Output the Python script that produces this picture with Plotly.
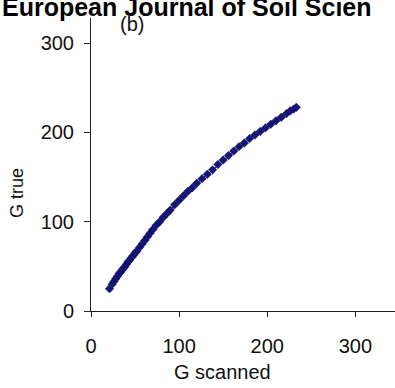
import plotly.graph_objects as go

g_scanned = [21, 24, 26, 28, 30, 32, 34, 36, 38, 40, 42, 44, 46, 48, 50, 52, 55, 58, 61, 64,
             67, 70, 74, 78, 82, 86, 90, 95, 100, 105, 110, 115, 120, 126, 132, 138, 144, 150,
             156, 162, 168, 174, 180, 186, 192, 198, 204, 210, 216, 222, 226, 230, 233]
g_true = [25, 30, 33, 36, 39, 42, 44, 47, 49, 52, 55, 57, 60, 62, 65, 67, 71, 75, 79, 83,
          87, 91, 96, 100, 105, 109, 113, 119, 124, 129, 134, 138, 143, 148, 153, 158, 164, 169,
          174, 179, 184, 188, 193, 197, 201, 205, 209, 213, 217, 221, 224, 226, 228]
x_ticks = [0, 100, 200, 300]
y_ticks = [0, 100, 200, 300]

W, H = 395, 388
L, R, T, B = 91, 0, 18, 77
pw, ph = W - L - R, H - T - B

def px(xp):
    return (xp - L) / pw

def py(yp):
    return (H - B - yp) / ph

fig = go.Figure()
fig.add_trace(go.Scatter(
    x=g_scanned, y=g_true, mode="lines+markers",
    line=dict(color="#111133", width=1),
    marker=dict(symbol="diamond", size=6.5, color="#14147a", line=dict(color="#0a0a40", width=0.5)),
    showlegend=False))

fam = "Liberation Sans, Arial, sans-serif"
font = dict(family=fam, size=20, color="#111111")
fig.update_layout(
    width=W, height=H, margin=dict(l=L, r=R, t=T, b=B),
    plot_bgcolor="white", paper_bgcolor="white", font=font,
    xaxis=dict(range=[0, 345], tickvals=x_ticks, ticks="outside", ticklen=5, tickcolor="#222",
               showline=True, linecolor="#222", linewidth=1, showgrid=False, zeroline=False,
               tickfont=font, ticklabelstandoff=12),
    yaxis=dict(range=[0, 328], tickvals=y_ticks, ticks="outside", ticklen=6, tickcolor="#222",
               showline=True, linecolor="#222", linewidth=1, showgrid=False, zeroline=False,
               tickfont=font, ticklabelstandoff=6),
    annotations=[
        dict(text="<b>European Journal of Soil Scien</b>", xref="paper", yref="paper",
             x=px(0), y=py(7), xanchor="left", yanchor="middle", showarrow=False,
             font=dict(family=fam, size=25, color="#000")),
        dict(text="(b)", xref="paper", yref="paper", x=px(132), y=py(24),
             xanchor="center", yanchor="middle", showarrow=False, font=font),
        dict(text="G scanned", xref="paper", yref="paper", x=px(222), y=py(372),
             xanchor="center", yanchor="middle", showarrow=False, font=font),
        dict(text="G true", xref="paper", yref="paper", x=px(17), y=py(193), textangle=-90,
             xanchor="center", yanchor="middle", showarrow=False,
             font=dict(family=fam, size=18, color="#111111")),
    ],
)
fig.write_html("out.html")
